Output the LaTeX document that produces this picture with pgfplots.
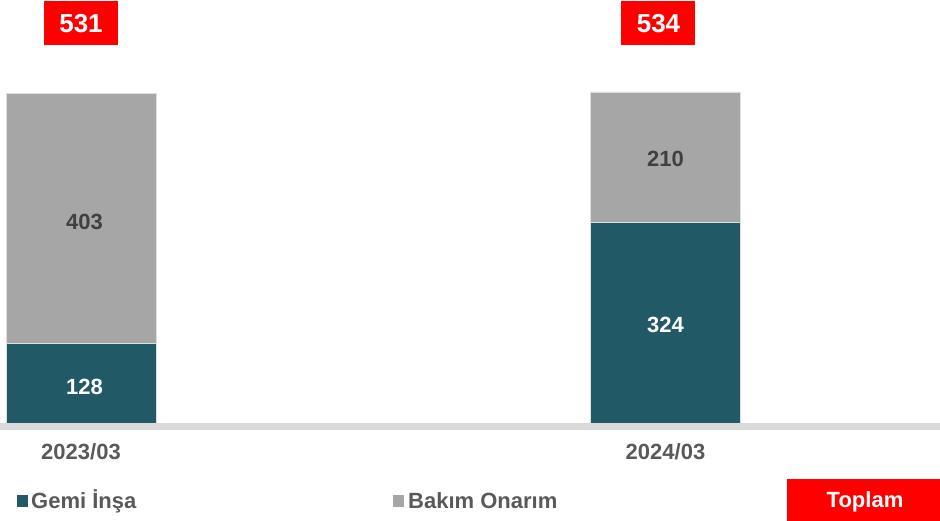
\documentclass[border=0pt]{standalone}
\usepackage{pgfplots}
\pgfplotsset{compat=1.18}
\usepackage{fontspec}
\setmainfont{Liberation Sans}
\definecolor{teal}{HTML}{225967}
\definecolor{grayb}{HTML}{A6A6A6}
\definecolor{txt}{HTML}{595959}
\definecolor{dtxt}{HTML}{404040}
\definecolor{axg}{HTML}{D9D9D9}
\begin{document}
\begin{tikzpicture}[x=1pt,y=1pt]
\path[use as bounding box] (0,-98) rectangle (940,423);
\begin{axis}[
  at={(0,0)}, anchor=south west,
  scale only axis, width=940pt, height=423pt,
  xmin=-0.13858, xmax=1.46963, ymin=0, ymax=682.26,
  ybar stacked, bar width=150pt,
  axis line style={draw=none}, tick style={draw=none},
  xtick={0,1}, xticklabels={\textbf{2023/03},\textbf{2024/03}},
  xticklabel style={font=\fontsize{22}{26}\selectfont, text=txt, yshift=-17pt},
  ytick=\empty,
  clip=false,
]
\addplot[fill=teal, draw=white!75!gray, line width=0.8pt] coordinates {(0,128) (1,324)};
\addplot[fill=grayb, draw=white!75!gray, line width=0.8pt] coordinates {(0,403) (1,210)};
\coordinate (l1) at (axis cs:0.006,58);
\coordinate (l2) at (axis cs:0.006,325);
\coordinate (l3) at (axis cs:1,158);
\coordinate (l4) at (axis cs:1,426);
\coordinate (t1) at (axis cs:0,645);
\coordinate (t2) at (axis cs:0.988,645);
\end{axis}
\node[font=\fontsize{22}{26}\selectfont\bfseries, text=white] at (l1) {128};
\node[font=\fontsize{22}{26}\selectfont\bfseries, text=dtxt] at (l2) {403};
\node[font=\fontsize{22}{26}\selectfont\bfseries, text=white] at (l3) {324};
\node[font=\fontsize{22}{26}\selectfont\bfseries, text=dtxt] at (l4) {210};
\node[fill=red, text=white, font=\fontsize{26}{29}\selectfont\bfseries, minimum width=74pt, minimum height=44pt, inner sep=0pt] at (t1) {531};
\node[fill=red, text=white, font=\fontsize{26}{29}\selectfont\bfseries, minimum width=74pt, minimum height=44pt, inner sep=0pt] at (t2) {534};
\fill[axg] (0,-7) rectangle (940,0);
% legend
\fill[teal] (17,-84) rectangle (28,-72);
\node[anchor=west, inner sep=0pt, font=\fontsize{22}{26}\selectfont\bfseries, text=txt] at (31,-78) {Gemi İnşa};
\fill[grayb] (393,-84) rectangle (404,-72);
\node[anchor=west, inner sep=0pt, font=\fontsize{22}{26}\selectfont\bfseries, text=txt] at (408,-78) {Bakım Onarım};
\fill[red] (787,-98) rectangle (940,-56);
\node[text=white, inner sep=0pt, font=\fontsize{22}{26}\selectfont\bfseries] at (865,-79) {Toplam};
\end{tikzpicture}
\end{document}
